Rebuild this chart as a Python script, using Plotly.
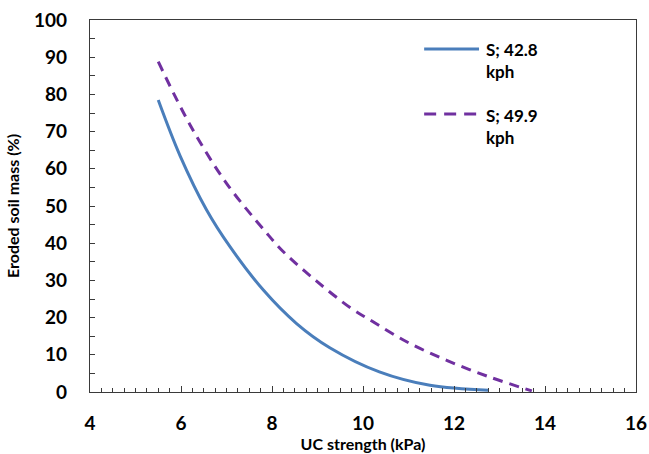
import plotly.graph_objects as go

# UC strength (kPa) vs eroded soil mass (%) for two wind speeds
strength_428 = [5.5, 5.98, 6.56, 7.08, 7.81, 8.54, 9.27, 10.36, 11.47, 12.76]
eroded_428 = [78.5, 63.5, 49.0, 39.0, 27.4, 18.4, 11.9, 5.4, 1.8, 0.5]

strength_499 = [5.5, 6.2, 7.0, 7.85, 8.25, 8.98, 9.75, 10.15, 10.96, 11.84, 12.79, 13.71]
eroded_499 = [88.8, 71.8, 56.1, 43.2, 37.7, 29.8, 22.4, 19.4, 13.5, 8.5, 4.0, 0.3]

series_names = ["S; 42.8<br>kph", "S; 49.9<br>kph"]
series_colors = ["#4A7EBB", "#7030A0"]
series_dash = ["solid", "10px,7px"]
x_ticks = [4, 6, 8, 10, 12, 14, 16]
y_ticks = [0, 10, 20, 30, 40, 50, 60, 70, 80, 90, 100]

FONT = "Lato"
AXIS_COLOR = "#3a3a3a"

fig = go.Figure()
for xs, ys, name, color, dash in zip(
    [strength_428, strength_499], [eroded_428, eroded_499],
    series_names, series_colors, series_dash,
):
    fig.add_trace(go.Scatter(
        x=xs, y=ys, mode="lines", name=name, showlegend=False,
        line=dict(color=color, width=3, dash=dash, shape="spline", smoothing=1.0),
    ))

# Legend block drawn in paper space, upper right of the plot
legend_rows = [0.922, 0.747]
for row_y, name, color, dash in zip(legend_rows, series_names, series_colors, ["solid", "12px,8px"]):
    fig.add_shape(
        type="line", xref="paper", yref="paper",
        x0=0.612, x1=0.7125, y0=row_y, y1=row_y,
        line=dict(color=color, width=3, dash=dash),
    )
    fig.add_annotation(
        xref="paper", yref="paper", x=0.7215, y=row_y + 0.031,
        xanchor="left", yanchor="top", align="left", showarrow=False,
        text=name, font=dict(family=FONT, size=17, weight="bold", color="black"),
    )

fig.update_layout(
    width=649, height=454,
    margin=dict(l=90, r=13, t=20, b=62, autoexpand=False),
    paper_bgcolor="white", plot_bgcolor="white",
    font=dict(family=FONT, color="black"),
    showlegend=False,
)

fig.update_xaxes(
    range=[4, 16], tickvals=x_ticks, ticktext=[str(v) for v in x_ticks],
    automargin=False,
    showgrid=False, zeroline=False,
    showline=True, linecolor=AXIS_COLOR, linewidth=1.3, mirror=True,
    ticks="inside", ticklen=6, tickwidth=1.3, tickcolor=AXIS_COLOR,
    minor=dict(dtick=0.25, ticks="inside", ticklen=4, tickwidth=1.1, tickcolor=AXIS_COLOR, showgrid=False),
    tickfont=dict(family=FONT, size=19, weight="bold", color="black"),
    ticklabelstandoff=14,
    title=dict(text="UC strength (kPa)", font=dict(family=FONT, size=16, weight="bold", color="black"), standoff=3),
)
fig.update_yaxes(
    range=[0, 100], tickvals=y_ticks, ticktext=[str(v) for v in y_ticks],
    automargin=False,
    showgrid=False, zeroline=False,
    showline=True, linecolor=AXIS_COLOR, linewidth=1.3, mirror=True,
    ticks="inside", ticklen=5, tickwidth=1.3, tickcolor=AXIS_COLOR,
    minor=dict(dtick=5, ticks="inside", ticklen=5, tickwidth=1.1, tickcolor=AXIS_COLOR, showgrid=False),
    tickfont=dict(family=FONT, size=19, weight="bold", color="black"),
    ticklabelstandoff=18,
    title=dict(text="Eroded soil mass (%)", font=dict(family=FONT, size=16, weight="bold", color="black"), standoff=10),
)

fig.write_html("out.html")
